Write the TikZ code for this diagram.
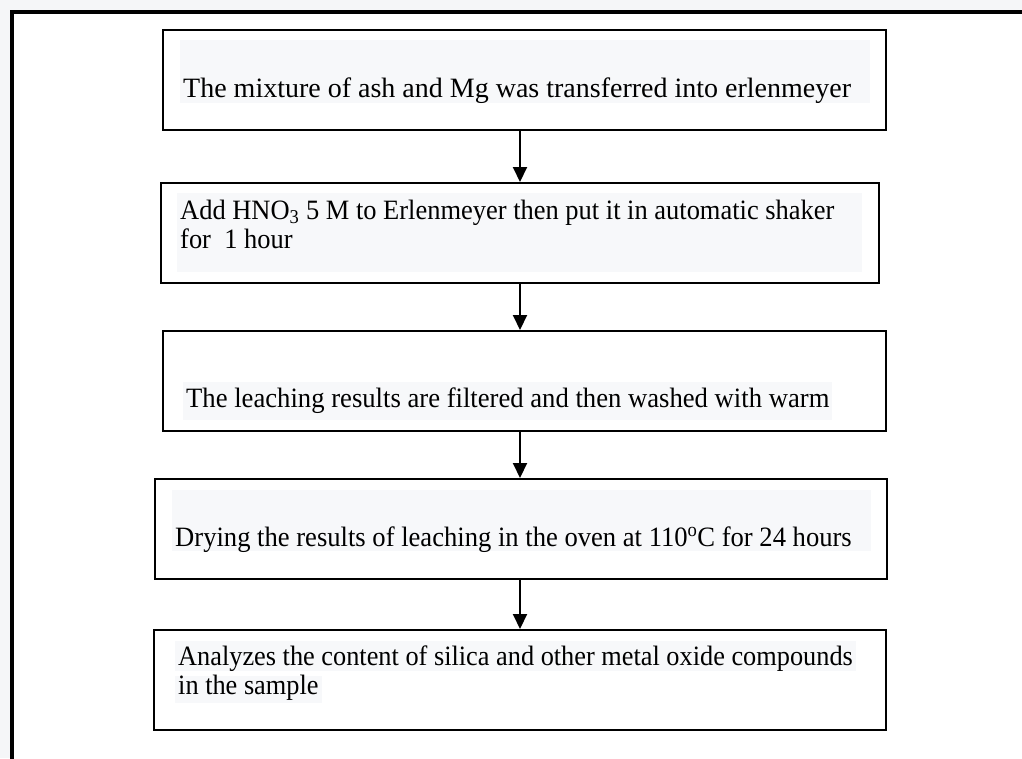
\documentclass[tikz,border=0pt]{standalone}
\usepackage{fontspec}
\setmainfont{Liberation Serif}
\usetikzlibrary{arrows.meta,positioning}

\definecolor{pagebg}{RGB}{245,246,248}
\definecolor{textbg}{RGB}{247,248,250}

\newcommand{\narrow}[2]{\scalebox{#1}[1]{#2}}

\begin{document}
\begin{tikzpicture}[
      x=1pt,y=-1pt,
      mybox/.style={
         draw=black,
         line width=2pt,
         minimum height=100pt,
         inner sep=0pt},
      mytext/.style={
         fill=textbg,
         anchor=base west,
         inner xsep=3pt,
         inner ysep=0pt,
         align=left,
         font=\fontsize{28}{29}\selectfont},
      myarrow/.style={-{Triangle[length=15pt,width=14pt]},line width=2pt}
      ]
      \useasboundingbox (0,0) rectangle (1022,758);
      \fill[pagebg] (0,0) rectangle (1022,758);
      \fill[white] (11.5,11.5) rectangle (1040,780);
      \draw[line width=4pt] (1040,11.5) -- (11.5,11.5) -- (11.5,780);

      % boxes
      \node[mybox,minimum width=723pt] (b1) at (524.5,80) {};
      \node[mybox,minimum width=718pt] (b2) at (520,233) {};
      \node[mybox,minimum width=723pt] (b3) at (524.5,381) {};
      \node[mybox,minimum width=732pt] (b4) at (521,529) {};
      \node[mybox,minimum width=732pt] (b5) at (520,680) {};

      % texts
      \node[mytext,text height=57pt,text depth=6pt] (t1) at (180,97)
         {\makebox[684pt][l]{The mixture of ash and Mg was transferred into erlenmeyer}};
      \node[mytext,text height=26pt,text depth=53pt] (t2) at (177,219)
         {\narrow{0.945}{\parbox[t]{718pt}{Add HNO\textsubscript{3} 5 M to Erlenmeyer then put it in automatic shaker\\for\ \ 1 hour}}};
      \node[mytext,text height=25pt,text depth=13pt] (t3) at (183,407)
         {\narrow{0.952}{The leaching results are filtered and then washed with warm}};
      \node[mytext,text height=56pt,text depth=5pt] (t4) at (172,546)
         {\narrow{0.95}{\makebox[729pt][l]{Drying the results of leaching in the oven at 110\textsuperscript{o}C for 24 hours}}};
      \node[mytext,text height=24pt,text depth=6pt] (t5) at (175,665)
         {\narrow{0.94}{Analyzes the content of silica and other metal oxide compounds}};
      \node[mytext,text height=18pt,text depth=9pt] (t6) at (175,694)
         {\narrow{0.94}{in the sample}};

      % arrows
      \coordinate (ax) at (520,0);
      \foreach \i/\j in {b1/b2,b2/b3,b3/b4,b4/b5}
         \draw[myarrow] (\i.south -| ax) -- (\j.north -| ax);
\end{tikzpicture}
\end{document}
